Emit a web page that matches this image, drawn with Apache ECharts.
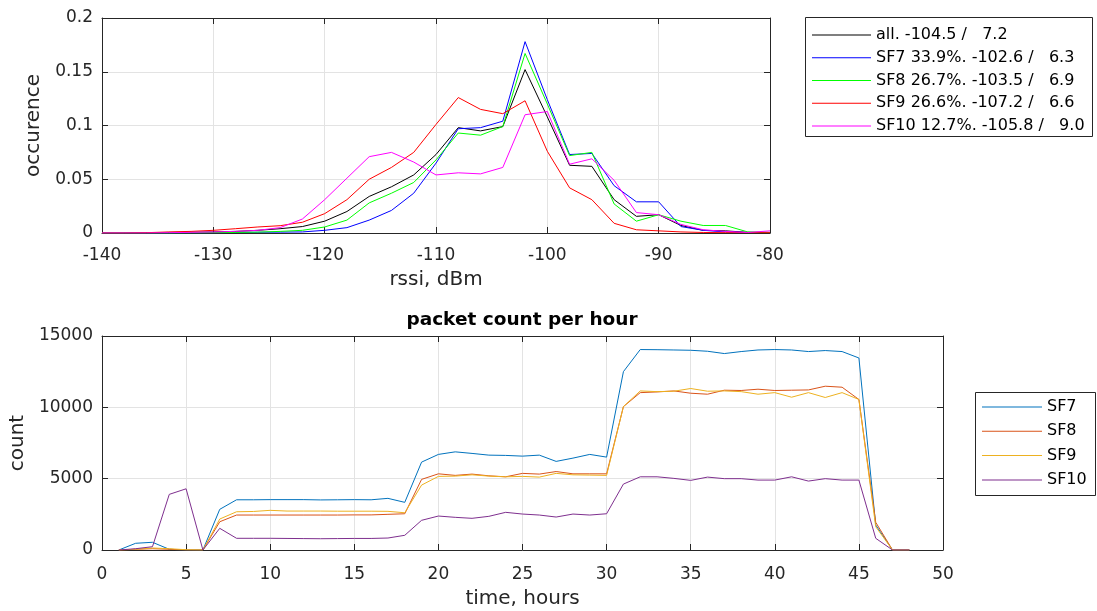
<!DOCTYPE html>
<html>
<head>
<meta charset="utf-8">
<script src="https://cdn.jsdelivr.net/npm/echarts@6/dist/echarts.min.js"></script>
<style>
html,body{margin:0;padding:0;background:#fff;}
#chart{width:1097px;height:611px;}
</style>
</head>
<body>
<div id="chart"></div>
<script>
// ---- top panel: RSSI distribution ----
const rssi = [-140,-138,-136,-134,-132,-130,-128,-126,-124,-122,-120,-118,-116,-114,-112,-110,-108,-106,-104,-102,-100,-98,-96,-94,-92,-90,-88,-86,-84,-82,-80];
const occAll  = [0,0,0.0003,0.0005,0.0007,0.001,0.0015,0.0025,0.004,0.006,0.011,0.020,0.034,0.043,0.054,0.073,0.098,0.095,0.099,0.152,0.108,0.063,0.062,0.031,0.0155,0.017,0.007,0.0025,0.002,0.0006,0.0005];
const occSF7  = [0,0,0,0,0.0002,0.0003,0.0005,0.0007,0.0008,0.001,0.0025,0.005,0.012,0.021,0.037,0.065,0.097,0.098,0.104,0.178,0.124,0.073,0.074,0.044,0.029,0.029,0.006,0.0025,0.001,0.0005,0.0005];
const occSF8  = [0,0,0,0,0.0002,0.0003,0.0005,0.0008,0.0015,0.0025,0.0056,0.012,0.028,0.037,0.047,0.068,0.093,0.091,0.099,0.167,0.120,0.072,0.075,0.027,0.011,0.017,0.011,0.007,0.007,0.001,0.0005];
const occSF9  = [0,0,0.0003,0.001,0.0015,0.0025,0.004,0.0056,0.0068,0.010,0.018,0.031,0.050,0.061,0.075,0.101,0.126,0.115,0.111,0.123,0.076,0.042,0.031,0.009,0.003,0.002,0.001,0.0005,0.0003,0.0003,0.0003];
const occSF10 = [0,0,0,0.0003,0.0006,0.001,0.0015,0.0025,0.005,0.013,0.031,0.051,0.071,0.075,0.066,0.054,0.056,0.055,0.061,0.110,0.113,0.064,0.069,0.049,0.019,0.017,0.008,0.003,0.0015,0.0005,0.002];
const topNames = ['all. -104.5 /   7.2','SF7 33.9%. -102.6 /   6.3','SF8 26.7%. -103.5 /   6.9','SF9 26.6%. -107.2 /   6.6','SF10 12.7%. -105.8 /   9.0'];
const topColors = ['#000000','#0000ff','#00ff00','#ff0000','#ff00ff'];
const topX = [-140,-130,-120,-110,-100,-90,-80];
const topY = [0,0.05,0.1,0.15,0.2];

// ---- bottom panel: packet count per hour ----
const hours = [1,2,3,4,5,6,7,8,9,10,11,12,13,14,15,16,17,18,19,20,21,22,23,24,25,26,27,28,29,30,31,32,33,34,35,36,37,38,39,40,41,42,43,44,45,46,47,48];
const cntSF7  = [0,470,540,50,0,0,2850,3520,3520,3530,3530,3530,3510,3520,3530,3520,3620,3340,6160,6700,6880,6770,6650,6630,6580,6650,6210,6440,6700,6510,12500,14050,14040,14020,14000,13930,13770,13910,14020,14050,14020,13910,13980,13910,13460,1750,0,0];
const cntSF8  = [0,50,90,50,0,0,1980,2450,2450,2450,2450,2450,2450,2450,2460,2460,2500,2540,4950,5340,5230,5320,5200,5130,5370,5320,5500,5340,5340,5340,10050,11030,11080,11150,10990,10920,11200,11180,11270,11180,11200,11220,11480,11410,10550,1940,0,0];
const cntSF9  = [0,50,140,90,20,0,2170,2680,2700,2780,2730,2730,2730,2720,2720,2720,2710,2610,4550,5160,5180,5270,5180,5130,5160,5110,5370,5270,5250,5230,10050,11150,11100,11130,11320,11130,11150,11100,10920,11030,10710,11030,10690,11030,10550,1630,0,0];
const cntSF10 = [0,90,230,3900,4290,0,1520,820,820,820,810,800,790,800,810,810,840,1030,2080,2380,2290,2220,2360,2640,2520,2450,2310,2520,2450,2540,4620,5130,5130,5020,4880,5110,5000,5000,4900,4900,5130,4830,5000,4900,4900,820,0,0];
const botNames = ['SF7','SF8','SF9','SF10'];
const botColors = ['#0072bd','#d95319','#edb120','#7e2f8e'];
const botX = [0,5,10,15,20,25,30,35,40,45,50];
const botY = [0,5000,10000,15000];

const FONT = 'DejaVu Sans';
const AX = '#262626';
function axisMain(gridIndex, ticks, name, nameGap, labelMargin){
  return {
    type:'value', gridIndex, min:ticks[0], max:ticks[ticks.length-1], interval:ticks[1]-ticks[0],
    name, nameLocation:'middle', nameGap,
    nameTextStyle:{fontFamily:FONT, fontSize:20, color:'#262626'},
    axisLine:{show:true, onZero:false, lineStyle:{color:AX, width:1}},
    axisTick:{show:true, inside:true, length:6, lineStyle:{color:AX, width:1}},
    axisLabel:{show:true, margin:labelMargin, fontFamily:FONT, fontSize:17, color:'#262626',
               formatter:function(v){ return String(v); }},
    splitLine:{show:true, lineStyle:{color:'#e3e3e3', width:1}}
  };
}
function axisMirror(gridIndex, ticks, position){
  return {
    type:'value', gridIndex, position, min:ticks[0], max:ticks[ticks.length-1], interval:ticks[1]-ticks[0],
    axisLine:{show:true, onZero:false, lineStyle:{color:AX, width:1}},
    axisTick:{show:true, inside:true, length:6, lineStyle:{color:AX, width:1}},
    axisLabel:{show:false}, splitLine:{show:false}
  };
}

const series = [];
const topData = [occAll, occSF7, occSF8, occSF9, occSF10];
topData.forEach((arr, i) => {
  series.push({
    type:'line', name:topNames[i], xAxisIndex:0, yAxisIndex:0,
    data: rssi.map((x, k) => [x, arr[k]]),
    symbol:'none', color:topColors[i], lineStyle:{width:1, color:topColors[i]}, z:2+i
  });
});
const botData = [cntSF7, cntSF8, cntSF9, cntSF10];
botData.forEach((arr, i) => {
  series.push({
    type:'line', name:botNames[i], xAxisIndex:2, yAxisIndex:2,
    data: hours.map((h, k) => [h, arr[k]]),
    symbol:'none', color:botColors[i], lineStyle:{width:1, color:botColors[i]}, z:2+i
  });
});

const option = {
  animation:false,
  backgroundColor:'#ffffff',
  textStyle:{fontFamily:FONT},
  grid:[
    {left:102, top:18, width:668, height:215, containLabel:false},
    {left:102, top:336, width:841, height:214, containLabel:false}
  ],
  xAxis:[
    axisMain(0, topX, 'rssi, dBm', 37, 14),
    axisMirror(0, topX, 'top'),
    axisMain(1, botX, 'time, hours', 39, 16),
    axisMirror(1, botX, 'top')
  ],
  yAxis:[
    axisMain(0, topY, 'occurence', 55, 9),
    axisMirror(0, topY, 'right'),
    axisMain(1, botY, 'count', 55, 9),
    axisMirror(1, botY, 'right')
  ],
  legend:[
    {data:topNames, orient:'vertical', left:812, top:27, padding:0, icon:'rect', itemWidth:59, itemHeight:1, itemGap:6.75,
     textStyle:{fontFamily:FONT, fontSize:16, lineHeight:16, color:'#000'}},
    {data:botNames, orient:'vertical', left:982, top:399, padding:0, icon:'rect', itemWidth:60, itemHeight:1, itemGap:8.3,
     textStyle:{fontFamily:FONT, fontSize:16, lineHeight:16, color:'#000'}}
  ],
  graphic:[
    {type:'rect', shape:{x:805.5, y:17.5, width:287, height:119}, style:{fill:'none', stroke:'#262626', lineWidth:1}},
    {type:'rect', shape:{x:975.5, y:392.5, width:120, height:103}, style:{fill:'none', stroke:'#262626', lineWidth:1}},
    {type:'text', x:522, y:320, style:{text:'packet count per hour', fontFamily:FONT, fontSize:18.5, fontWeight:'bold', fill:'#000', align:'center', verticalAlign:'middle'}}
  ],
  series
};
const chart = echarts.init(document.getElementById('chart'), null, {renderer:'canvas'});
chart.setOption(option);
</script>
</body>
</html>
